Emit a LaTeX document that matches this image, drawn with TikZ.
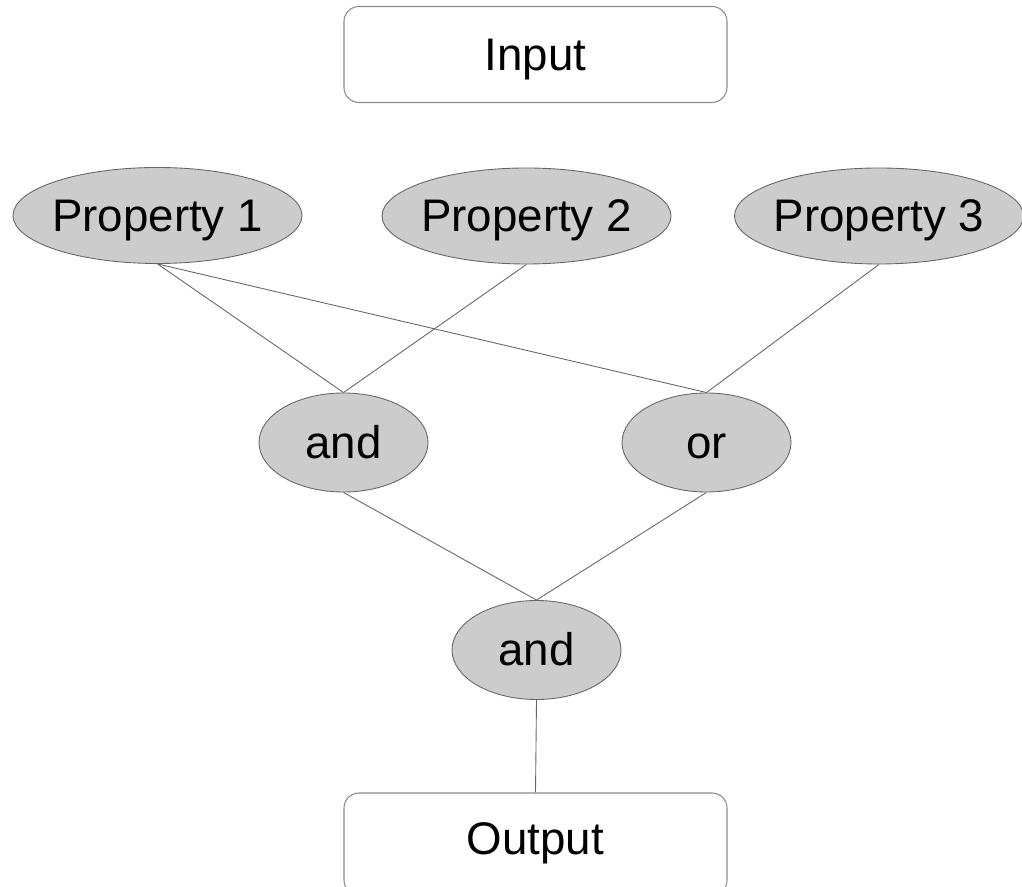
\documentclass[tikz,border=0pt]{standalone}
\usepackage{fontspec}
\setmainfont{Liberation Sans}
\usetikzlibrary{shapes.geometric}
\definecolor{propfill}{HTML}{CCCCCC}
\definecolor{edgegray}{HTML}{666666}
\definecolor{boxgray}{HTML}{8A8A8A}
\begin{document}
\begin{tikzpicture}[
  every node/.style={font=\fontsize{26}{31}\selectfont,
    text height=24pt, text depth=5.8pt},
  iobox/.style={draw=boxgray, line width=0.6pt, rounded corners=0.3cm,
    minimum width=7.66cm, minimum height=1.92cm},
  prop/.style={ellipse, draw=edgegray, fill=propfill, line width=0.5pt,
    inner ysep=0pt, inner xsep=-0.5cm, minimum width=5.78cm, minimum height=1.92cm},
  gate/.style={ellipse, draw=edgegray, fill=propfill, line width=0.5pt,
    inner sep=0pt, minimum width=3.38cm, minimum height=1.98cm},
  link/.style={draw=edgegray, line width=0.5pt}
  ]
  \useasboundingbox (0,0) rectangle (20.44,17.72);
  % input and output
  \node[iobox] (input) at (10.71, 16.63) {Input};
  \node[iobox, minimum height=2.04cm, text depth=12pt] (output) at (10.71, 0.84) {Output};
  % properties
  \node[prop] (prop1) at (3.15, 13.41) {Property 1};
  \node[prop] (prop2) at (10.53, 13.40) {Property 2};
  \node[prop] (prop3) at (17.58, 13.40) {Property 3};
  % gates
  \node[gate] (and1) at (6.87, 8.87) {and};
  \node[gate] (or1) at (14.13, 8.87) {or};
  \node[gate] (and2) at (10.73, 4.72) {and};
  \draw[link] (prop1.south) -- (and1.north);
  \draw[link] (prop1.south) -- (or1.north);
  \draw[link] (prop2.south) -- (and1.north);
  \draw[link] (prop3.south) -- (or1.north);
  \draw[link] (and1.south) -- (and2.north);
  \draw[link] (or1.south) -- (and2.north);
  \draw[link] (and2.south) -- (output.north);
\end{tikzpicture}
\end{document}
